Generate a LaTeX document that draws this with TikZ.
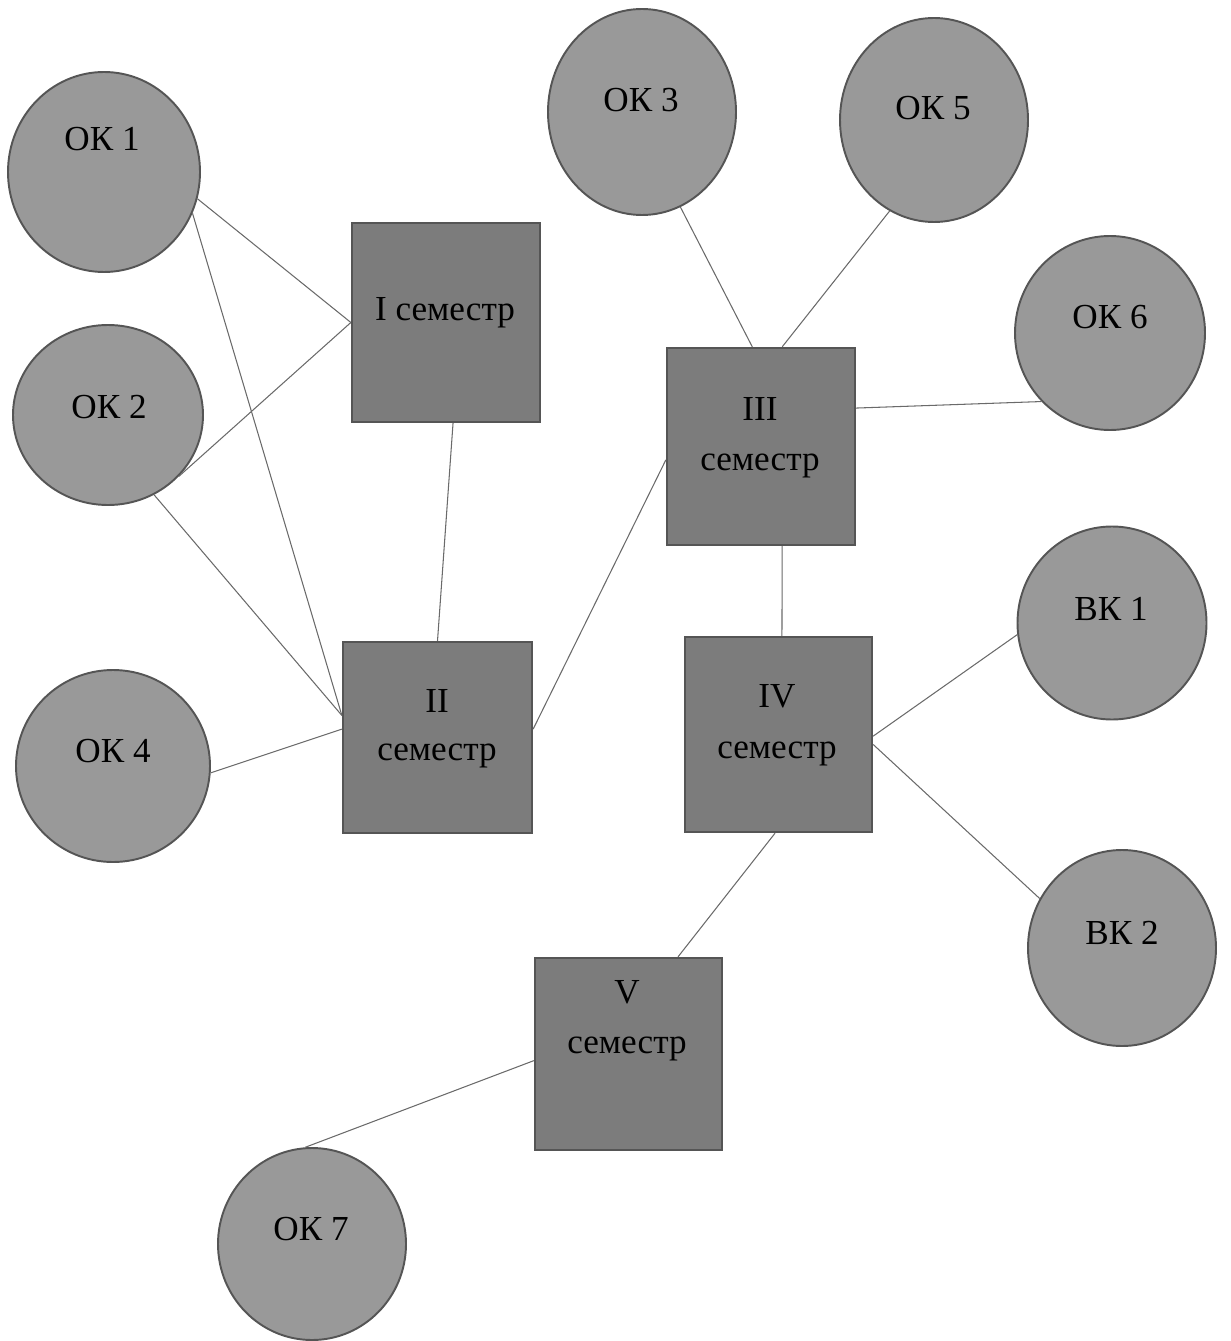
\documentclass[tikz,border=0pt]{standalone}
\usepackage{fontspec}
\setmainfont{Liberation Serif}
\usetikzlibrary{shapes.geometric}
\definecolor{okfill}{HTML}{999999}
\definecolor{semfill}{HTML}{7C7C7C}
\definecolor{edgecol}{HTML}{555555}
\definecolor{linkcol}{HTML}{6A6A6A}
\tikzset{
  okc/.style={ellipse, draw=edgecol, line width=1.1pt, fill=okfill, inner sep=0pt},
  sem/.style={rectangle, draw=edgecol, line width=1.3pt, fill=semfill, inner sep=0pt},
  lbl/.style={anchor=base, inner sep=0pt, font=\fontsize{20pt}{24pt}\selectfont, text=black},
  link/.style={draw=linkcol, line width=0.6pt}
}
\begin{document}
\begin{tikzpicture}[x=0.02cm,y=-0.02cm]
\useasboundingbox (0,0) rectangle (1230,1341);
% circles
\node[okc, minimum width=192*0.02cm, minimum height=200*0.02cm] (ok1) at (104,172) {};
\node[okc, minimum width=190*0.02cm, minimum height=180*0.02cm] (ok2) at (108,415) {};
\node[okc, minimum width=188*0.02cm, minimum height=206*0.02cm] (ok3) at (642,112) {};
\node[okc, minimum width=188*0.02cm, minimum height=204*0.02cm] (ok5) at (934,120) {};
\node[okc, minimum width=190*0.02cm, minimum height=194*0.02cm] (ok6) at (1110,333) {};
\node[okc, minimum width=194*0.02cm, minimum height=192*0.02cm] (ok4) at (113,766) {};
\node[okc, minimum width=189*0.02cm, minimum height=193*0.02cm] (bk1) at (1112,623) {};
\node[okc, minimum width=188*0.02cm, minimum height=196*0.02cm] (bk2) at (1122,948) {};
\node[okc, minimum width=188*0.02cm, minimum height=192*0.02cm] (ok7) at (312,1244) {};
% squares
\node[sem, minimum width=188*0.02cm, minimum height=199*0.02cm] (s1) at (446,322.5) {};
\node[sem, minimum width=189*0.02cm, minimum height=191*0.02cm] (s2) at (437.5,737.5) {};
\node[sem, minimum width=188*0.02cm, minimum height=197*0.02cm] (s3) at (761,446.5) {};
\node[sem, minimum width=187*0.02cm, minimum height=195*0.02cm] (s4) at (778.5,734.5) {};
\node[sem, minimum width=187*0.02cm, minimum height=192*0.02cm] (s5) at (628.5,1054) {};
% connectors
\draw[link] (ok1.-16.6) -- (s1.west);
\draw[link] (ok1.-25.3) -- (s2.167.9);
\draw[link] (ok2.-41.2) -- (s1.west);
\draw[link] (ok2.-60) -- (s2.167.9);
\draw[link] (s1.-86) -- (s2.north);
\draw[link] (ok4.-4) -- (s2.175.5);
\draw[link] (s2.5.6) -- (s3.188.2);
\draw[link] (ok3.-68.3) -- (s3.95.2);
\draw[link] (ok5.-116.6) -- (s3.78);
\draw[link] (s3.22.8) -- (ok6.225.8);
\draw[link] (s3.-78) -- (s4.88);
\draw[link] (s4.-1.5) -- (bk1.187.2);
\draw[link] (s4.-6.4) -- (bk2.149.6);
\draw[link] (s4.-92) -- (s5.63.2);
\draw[link] (s5.184.9) -- (ok7.94.2);
% labels
\node[lbl] (tok1) at (102,151) {ОК 1};
\node[lbl] (tok2) at (109,418) {ОК 2};
\node[lbl] (tok3) at (641,112) {ОК 3};
\node[lbl] (tok5) at (933,120) {ОК 5};
\node[lbl] (tok6) at (1110,328) {ОК 6};
\node[lbl] (tok4) at (113,762) {ОК 4};
\node[lbl] (tbk1) at (1111,620) {ВК 1};
\node[lbl] (tbk2) at (1122,944) {ВК 2};
\node[lbl] (tok7) at (311,1240) {ОК 7};
\node[lbl] (ts1) at (445,320) {I семестр};
\node[lbl] (ts2a) at (437,712) {II};
\node[lbl] (ts2b) at (437,760) {семестр};
\node[lbl] (ts3a) at (760,420) {III};
\node[lbl] (ts3b) at (760,470) {семестр};
\node[lbl] (ts4a) at (777,707) {IV};
\node[lbl] (ts4b) at (777,758) {семестр};
\node[lbl] (ts5a) at (627,1003) {V};
\node[lbl] (ts5b) at (627,1053) {семестр};
\end{tikzpicture}
\end{document}
